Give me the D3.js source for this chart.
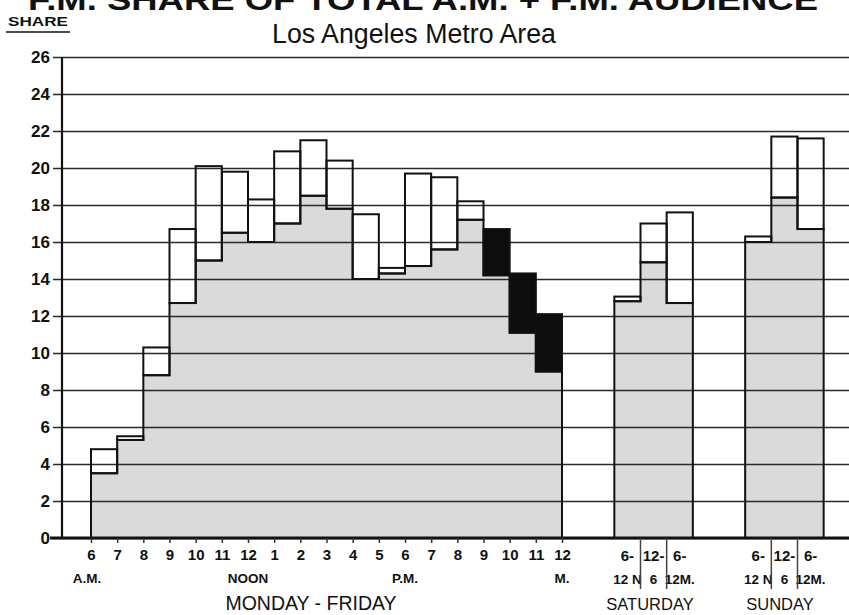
<!DOCTYPE html>
<html>
<head>
<meta charset="utf-8">
<script src="https://cdn.jsdelivr.net/npm/d3@7"></script>
<style>
  body { margin: 0; background: #fff; }
  svg { display: block; }
  text { font-family: "Liberation Sans", Arial, sans-serif; fill: #111; }
</style>
</head>
<body>
<div id="chart"></div>
<script>
// values (share %)
const weekdayPeriods = ["6-7AM", "7-8AM", "8-9AM", "9-10AM", "10-11AM", "11-12N", "12-1PM", "1-2PM", "2-3PM",
  "3-4PM", "4-5PM", "5-6PM", "6-7PM", "7-8PM", "8-9PM", "9-10PM", "10-11PM", "11-12M"];
const weekdayLow = [3.5, 5.3, 8.8, 12.7, 15.0, 16.5, 16.0, 17.0, 18.5, 17.8, 14.0, 14.3, 14.7, 15.6, 17.2, 14.2, 11.1, 9.0];
const weekdayHigh = [4.8, 5.5, 10.3, 16.7, 20.1, 19.8, 18.3, 20.9, 21.5, 20.4, 17.5, 14.6, 19.7, 19.5, 18.2, 16.7, 14.3, 12.1];
const highlighted = ["9-10PM", "10-11PM", "11-12M"];

const weekdayHours = ["6", "7", "8", "9", "10", "11", "12", "1", "2", "3", "4", "5", "6", "7", "8", "9", "10", "11", "12"];
const weekdayMarks = [{ at: 0, text: "A.M." }, { at: 6, text: "NOON" }, { at: 12, text: "P.M." }, { at: 18, text: "M." }];

const weekendPeriods = [["6-", "12 N"], ["12-", "6"], ["6-", "12M."]];
const saturdayLow = [12.8, 14.9, 12.7];
const saturdayHigh = [13.05, 17.0, 17.6];
const sundayLow = [16.0, 18.4, 16.7];
const sundayHigh = [16.3, 21.7, 21.6];

const yTicks = [0, 2, 4, 6, 8, 10, 12, 14, 16, 18, 20, 22, 24, 26];

const W = 849, H = 615;

const svg = d3.select("#chart").append("svg")
    .attr("width", W)
    .attr("height", H);

// one slot = one hour on weekdays / one daypart on weekends
const x = d3.scaleLinear().domain([0, 18]).range([91, 562]);
const y = d3.scaleLinear().domain([0, 26]).range([538, 57]);

const groups = [
    { name: "MONDAY - FRIDAY", start: 0, low: weekdayLow, high: weekdayHigh, periods: weekdayPeriods, labelX: 311 },
    { name: "SATURDAY", start: 20, low: saturdayLow, high: saturdayHigh, periods: weekendPeriods.map(p => p.join("")), labelX: 650 },
    { name: "SUNDAY", start: 25, low: sundayLow, high: sundayHigh, periods: weekendPeriods.map(p => p.join("")), labelX: 780 }
];

// gray fill (lower value)
groups.forEach(g => {
    svg.append("g").selectAll("rect")
        .data(g.low)
        .enter().append("rect")
        .attr("x", (d, i) => x(g.start + i) - 0.3)
        .attr("width", x(1) - x(0) + 0.6)
        .attr("y", d => y(d))
        .attr("height", d => y(0) - y(d))
        .attr("fill", "#dadada");
});

// grid lines + y axis
const yAxis = svg.append("g")
    .attr("transform", "translate(62,0)")
    .call(d3.axisLeft(y).tickValues(yTicks).tickSize(-(W - 62)).tickPadding(12));
yAxis.select(".domain").remove();
yAxis.selectAll(".tick line")
    .attr("x1", -9)
    .attr("stroke", "#2a2a2a")
    .attr("stroke-width", 1.5);
yAxis.selectAll(".tick text")
    .attr("font-size", 17)
    .attr("font-weight", "bold")
    .attr("fill", "#111");

svg.append("line")
    .attr("x1", 62).attr("x2", 62)
    .attr("y1", y(0)).attr("y2", y(26))
    .attr("stroke", "#111").attr("stroke-width", 2.2);

// outline of the gray steps
groups.forEach(g => {
    const pts = [[x(g.start), y(0)]];
    g.low.forEach((d, i) => {
        pts.push([x(g.start + i), y(d)]);
        pts.push([x(g.start + i + 1), y(d)]);
    });
    pts.push([x(g.start + g.low.length), y(0)]);
    svg.append("path")
        .attr("d", d3.line()(pts))
        .attr("fill", "none")
        .attr("stroke", "#111")
        .attr("stroke-width", 2);
});

// boxes: low -> high
groups.forEach(g => {
    svg.append("g").selectAll("rect")
        .data(g.low.map((d, i) => ({ low: d, high: g.high[i], period: g.periods[i], i: i })))
        .enter().append("rect")
        .attr("x", d => x(g.start + d.i))
        .attr("width", x(1) - x(0))
        .attr("y", d => y(d.high))
        .attr("height", d => y(d.low) - y(d.high))
        .attr("fill", d => g.start === 0 && highlighted.includes(d.period) ? "#0d0d0d" : "none")
        .attr("stroke", "#111")
        .attr("stroke-width", 2);
});

// baseline
svg.append("line")
    .attr("x1", 50).attr("x2", W)
    .attr("y1", y(0)).attr("y2", y(0))
    .attr("stroke", "#111").attr("stroke-width", 3);

// weekday hour axis
const xAxis = svg.append("g")
    .attr("transform", "translate(0," + y(0) + ")")
    .call(d3.axisBottom(x).tickValues(d3.range(weekdayHours.length))
        .tickFormat(i => weekdayHours[i]).tickSize(5).tickPadding(6));
xAxis.select(".domain").remove();
xAxis.selectAll(".tick line").attr("stroke", "#333").attr("stroke-width", 1.5);
xAxis.selectAll(".tick text")
    .attr("font-size", 15)
    .attr("font-weight", "bold")
    .attr("fill", "#111");

svg.selectAll(".mark")
    .data(weekdayMarks)
    .enter().append("text")
    .attr("class", "mark")
    .attr("x", d => x(d.at) - (d.at === 0 ? 4 : 0))
    .attr("y", 583)
    .attr("text-anchor", "middle")
    .attr("font-size", 13.5)
    .attr("font-weight", "bold")
    .text(d => d.text);

// weekend daypart labels and separators
groups.slice(1).forEach(g => {
    weekendPeriods.forEach((p, i) => {
        const cx = x(g.start + i + 0.5);
        svg.append("text")
            .attr("x", cx).attr("y", 561)
            .attr("text-anchor", "middle")
            .attr("font-size", 15).attr("font-weight", "bold")
            .text(p[0]);
        svg.append("text")
            .attr("x", cx).attr("y", 584)
            .attr("text-anchor", "middle")
            .attr("font-size", 13.5).attr("font-weight", "bold")
            .text(p[1]);
        if (i > 0) {
            svg.append("line")
                .attr("x1", x(g.start + i)).attr("x2", x(g.start + i))
                .attr("y1", y(0)).attr("y2", 589)
                .attr("stroke", "#444").attr("stroke-width", 1.5);
        }
    });
});

// group names
svg.selectAll(".group-name")
    .data(groups)
    .enter().append("text")
    .attr("class", "group-name")
    .attr("x", d => d.labelX)
    .attr("y", 610)
    .attr("text-anchor", "middle")
    .attr("font-size", d => d.start === 0 ? 19.5 : 16.5)
    .text(d => d.name);

// titles
svg.append("text")
    .attr("x", 28).attr("y", 10)
    .attr("font-size", 30).attr("font-weight", "bold")
    .attr("textLength", 790).attr("lengthAdjust", "spacingAndGlyphs")
    .text("F.M. SHARE OF TOTAL A.M. + F.M. AUDIENCE");

svg.append("text")
    .attr("x", 414).attr("y", 43)
    .attr("text-anchor", "middle")
    .attr("font-size", 27)
    .attr("textLength", 284).attr("lengthAdjust", "spacingAndGlyphs")
    .text("Los Angeles Metro Area");

svg.append("text")
    .attr("x", 8).attr("y", 26)
    .attr("font-size", 13).attr("font-weight", "bold")
    .attr("textLength", 60).attr("lengthAdjust", "spacingAndGlyphs")
    .text("SHARE");
svg.append("line")
    .attr("x1", 6).attr("x2", 70)
    .attr("y1", 32).attr("y2", 32)
    .attr("stroke", "#111").attr("stroke-width", 1.5);
</script>
</body>
</html>
